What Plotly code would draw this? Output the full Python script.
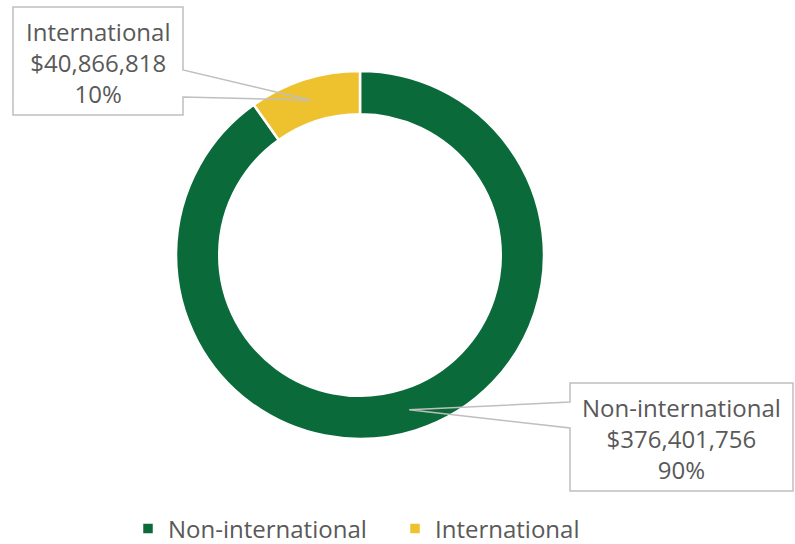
import math
import plotly.graph_objects as go

# ---- data ----
categories = ["Non-international", "International"]
amounts = [376401756, 40866818]
colors = ["#0B6A3A", "#EEC22F"]

# ---- layout geometry (pixels) ----
W, H = 795, 544
CX, CY = 360, 255      # donut centre (from top-left)
R = 184                # outer radius
HOLE = 0.765

def px(x):
    return x / W

def py(y):
    return 1 - y / H

fig = go.Figure(go.Pie(
    labels=categories,
    values=amounts,
    hole=HOLE,
    sort=False,
    direction="clockwise",
    rotation=0,
    marker=dict(colors=colors, line=dict(color="white", width=2.5)),
    textinfo="none",
    hoverinfo="label+value+percent",
    domain=dict(x=[px(CX - R), px(CX + R)], y=[py(CY + R), py(CY - R)]),
))

total = sum(amounts)
tips = []
cum = 0
for v in amounts:
    mid = (cum + v / 2) / total * 2 * math.pi
    cum += v
    rmid = R * (1 + HOLE) / 2
    tips.append((CX + rmid * math.sin(mid), CY - rmid * math.cos(mid)))

# callout boxes: (left, top, right, bottom, side, tail_y0, tail_y1)
boxes = {
    "International": (13, 7, 183, 115, "right", 70, 97),
    "Non-international": (570, 383, 793, 491, "left", 402, 428),
}

shapes = []
annotations = []
gray_text = "#595959"
font_lbl = dict(family="Open Sans, Liberation Sans, Arial", size=24, color=gray_text)

for i, name in enumerate(categories):
    l, t, r, b, side, ty0, ty1 = boxes[name]
    tx, ty = tips[i]
    if side == "right":
        pts = [(l, t), (r, t), (r, ty0), (tx, ty), (r, ty1), (r, b), (l, b)]
    else:
        pts = [(l, t), (r, t), (r, b), (l, b), (l, ty1), (tx, ty), (l, ty0)]
    path = "M " + " L ".join(f"{px(x):.5f},{py(y):.5f}" for x, y in pts) + " Z"
    shapes.append(dict(type="path", path=path, xref="paper", yref="paper",
                       line=dict(color="#BFBFBF", width=1.5),
                       fillcolor="rgba(255,255,255,0)", layer="above"))
    pct = round(amounts[i] / total * 100)
    annotations.append(dict(
        x=px((l + r) / 2), y=py((t + b) / 2 + 1), xref="paper", yref="paper",
        xanchor="center", yanchor="middle", showarrow=False, align="center",
        text=f"{name}<br>${amounts[i]:,}<br>{pct}%", font=font_lbl,
    ))

fig.update_layout(
    width=W, height=H,
    margin=dict(l=0, r=0, t=0, b=0, autoexpand=False),
    paper_bgcolor="white", plot_bgcolor="white",
    shapes=shapes, annotations=annotations,
    showlegend=True,
    legend=dict(orientation="h", xref="container", yref="container",
                x=px(128), xanchor="left",
                y=py(529), yanchor="middle",
                entrywidth=222, entrywidthmode="pixels",
                font=dict(family="Open Sans, Liberation Sans, Arial", size=24, color=gray_text),
                itemclick=False, traceorder="normal"),
)

fig.write_html("out.html", config={"displayModeBar": False},
               post_script="document.body.style.margin='0';")
